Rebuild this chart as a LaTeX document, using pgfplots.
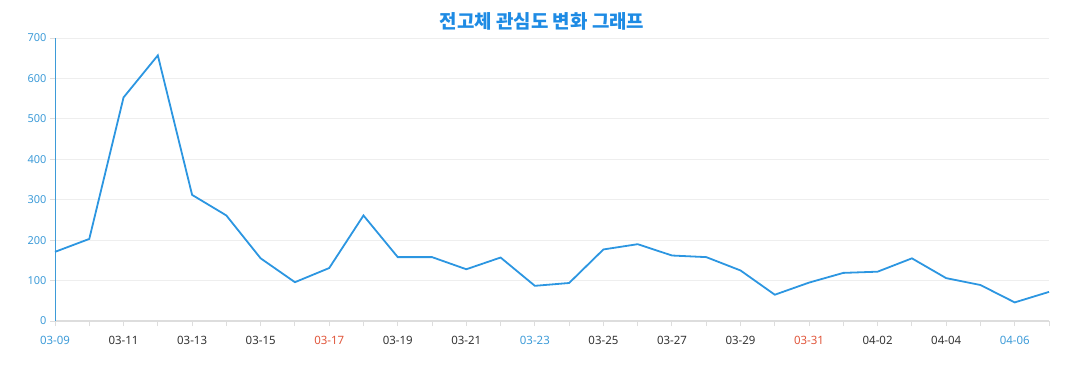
\documentclass[border=0pt]{standalone}
\usepackage{fontspec}
\setmainfont{Noto Sans}
\newfontfamily\kr{Noto Sans CJK KR}
\usepackage{pgfplots}
\pgfplotsset{compat=1.18}
\definecolor{linec}{HTML}{2C96E1}
\definecolor{titlec}{HTML}{1E8BE4}
\definecolor{ylab}{HTML}{3D9BD8}
\definecolor{redl}{HTML}{E0553A}
\definecolor{bluel}{HTML}{3D9BD8}
\definecolor{darkl}{HTML}{333333}
\definecolor{gridc}{HTML}{EEEEEE}
\definecolor{xaxc}{HTML}{DDDDDD}
\begin{document}
\begin{tikzpicture}
\useasboundingbox (0,0) rectangle (1077bp,390bp);
\node[font=\kr\bfseries\fontsize{19}{21}\selectfont, text=titlec] at (542bp,369bp) {전고체 관심도 변화 그래프};
\begin{axis}[
  at={(55bp,69bp)}, anchor=south west,
  scale only axis, width=994bp, height=283bp,
  xmin=0, xmax=29, ymin=0, ymax=700,
  axis x line*=bottom, axis y line*=left,
  x axis line style={-, draw=xaxc, line width=1.5bp},
  y axis line style={-, draw=ylab, line width=1bp},
  xtick={0,...,29},
  xticklabels={{\textcolor{bluel}{03-09}},,03-11,,03-13,,03-15,,{\textcolor{redl}{03-17}},,03-19,,03-21,,{\textcolor{bluel}{03-23}},,03-25,,03-27,,03-29,,{\textcolor{redl}{03-31}},,04-02,,04-04,,{\textcolor{bluel}{04-06}},},
  ytick={0,100,...,700},
  tick align=outside,
  major tick length=5bp,
  x tick style={draw=xaxc, line width=1bp},
  y tick style={draw=xaxc, line width=0.8bp},
  x tick label style={font=\fontsize{11.5}{13}\selectfont, text=darkl, yshift=-7bp},
  y tick label style={font=\fontsize{11}{13}\selectfont, text=ylab},
  /pgf/number format/assume math mode=true,
  ymajorgrids, grid style={draw=gridc, line width=0.8bp},
  clip=false,
]
\addplot[linec, line width=1.8bp] coordinates {
(0,171) (1,203) (2,553) (3,657) (4,312) (5,261) (6,155) (7,96) (8,131) (9,261)
(10,158) (11,158) (12,128) (13,157) (14,87) (15,94) (16,177) (17,190) (18,162) (19,158)
(20,125) (21,65) (22,95) (23,119) (24,122) (25,155) (26,106) (27,89) (28,46) (29,72)
};
\end{axis}
\end{tikzpicture}
\end{document}
